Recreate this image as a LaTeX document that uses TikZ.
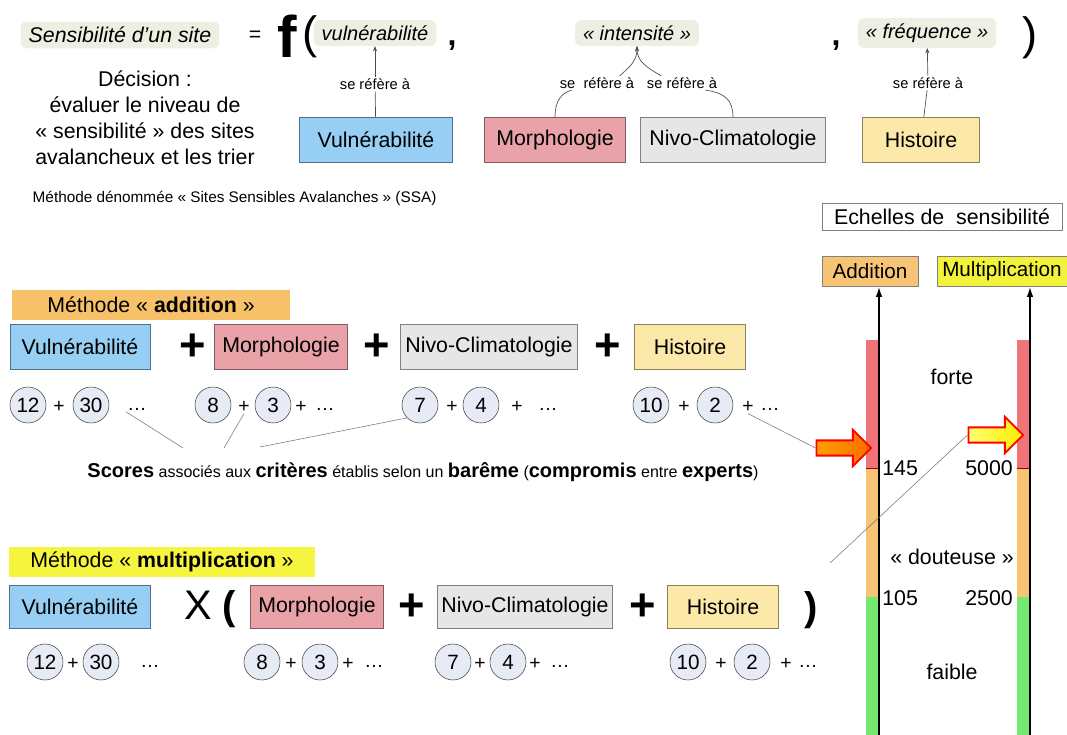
\documentclass[tikz,border=0pt]{standalone}
\usepackage{fontspec}
\setmainfont{Liberation Sans}
\usetikzlibrary{arrows.meta,shapes.arrows}

\definecolor{bleu}{HTML}{97CEF3}
\definecolor{rose}{HTML}{E9A3A8}
\definecolor{gris}{HTML}{E6E6E6}
\definecolor{jaune}{HTML}{FCE9AA}
\definecolor{orangeb}{HTML}{F7C169}
\definecolor{jauneb}{HTML}{F5F53F}
\definecolor{orangec}{HTML}{F6C474}
\definecolor{jaunev}{HTML}{F2F23A}
\definecolor{rougeb}{HTML}{EF7477}
\definecolor{vert}{HTML}{74E870}
\definecolor{cercle}{HTML}{E7EBF5}
\definecolor{surlign}{HTML}{EEEFE3}

\newcommand{\mot}[1]{{\fontsize{15}{18}\selectfont\bfseries #1}}

\begin{document}
\begin{tikzpicture}[x=0.75pt, y=-0.75pt,
    crit/.style={draw=#1!55!black, fill=#1, inner sep=0pt, font=\fontsize{16}{19}\selectfont},
    note/.style={circle, draw=black!75, fill=cercle, minimum size=27pt, inner sep=0pt, font=\fontsize{15.5}{18}\selectfont},
    op/.style={anchor=base, inner sep=1pt, font=\fontsize{14.5}{17}\selectfont},
    gros/.style={inner sep=0pt, font=\fontsize{34}{34}\bfseries\selectfont},
    ital/.style={fill=surlign, rounded corners=4pt, inner xsep=6pt, inner ysep=4pt, font=\fontsize{15}{18}\itshape\selectfont},
    ref/.style={inner sep=1pt, font=\fontsize{11}{13}\selectfont},
    lien/.style={draw=black!70, line width=0.5pt},
    fil/.style={draw=black!55, line width=0.4pt},
    fleche/.style={single arrow, draw=red, line width=1.4pt, minimum height=41pt, inner sep=5pt, single arrow head extend=8pt},
    echelle/.style={line width=1.8pt, -{Latex[length=8pt,width=5pt]}},
    lab/.style={inner sep=0pt, font=\fontsize{16}{19}\selectfont}]
  \useasboundingbox (0,0) rectangle (1067,735);

  % Formule
  \node[ital, font=\fontsize{16}{19}\itshape\selectfont] (sens) at (120,35) {Sensibilité d'un site};
  \node[lab] (egal) at (255,36) {=};
  \node[inner sep=0pt, font=\fontsize{44}{44}\bfseries\selectfont] (f) at (287,36) {f};
  \node[inner sep=0pt, font=\fontsize{34}{34}\selectfont] (pa) at (310,37) {(};
  \node[ital] (vuln) at (375,33) {vulnérabilité};
  \node[anchor=base, font=\fontsize{24}{24}\bfseries\selectfont] (v1) at (452,46) {,};
  \node[ital] (inten) at (637,33) {«~intensité~»};
  \node[anchor=base, font=\fontsize{24}{24}\bfseries\selectfont] (v2) at (836,46) {,};
  \node[ital] (freq) at (927,33) {«~fréquence~»};
  \node[inner sep=0pt, font=\fontsize{34}{34}\selectfont] (pb) at (1030,38) {)};

  \node[align=center, font=\fontsize{16}{19.5}\selectfont] (decision) at (145,118)
    {Décision :\\évaluer le niveau de\\«~sensibilité~» des sites\\avalancheux et les trier};
  \node[anchor=west, font=\fontsize{11.5}{14}\selectfont] (ssa) at (28,198)
    {Méthode dénommée «~Sites Sensibles Avalanches~» (SSA)};

  % Criteres
  \node[crit=bleu, minimum width=115pt, minimum height=34pt] (vt) at (376,140) {Vulnérabilité};
  \node[crit=rose, minimum width=106pt, minimum height=34pt] (mt) at (555,140) {Morphologie};
  \node[crit=gris, minimum width=139pt, minimum height=34pt] (nt) at (733,140) {Nivo-Climatologie};
  \node[crit=jaune, minimum width=88pt, minimum height=34pt] (ht) at (921,140) {Histoire};

  \node[ref] (r1) at (375,84) {se réfère à};
  \node[ref] (r2) at (597,83) {se\ \ réfère à};
  \node[ref] (r3) at (682,83) {se réfère à};
  \node[ref] (r4) at (928,83) {se réfère à};

  \draw[lien] (vt) -- (r1);
  \draw[lien, -{Stealth[length=4pt,width=3pt]}] (r1) -- (vuln);
  \draw[lien] (mt.north) .. controls (555,100) and (562,93) .. ([xshift=10pt]r2.south west);
  \draw[lien, -{Stealth[length=4pt,width=3pt]}] ([xshift=-12pt]r2.north east) .. controls (628,68) and (637,62) .. (inten.south);
  \draw[lien] (nt.north) .. controls (733,100) and (725,93) .. ([xshift=-10pt]r3.south east);
  \draw[lien, -{Stealth[length=4pt,width=3pt]}] ([xshift=12pt]r3.north west) .. controls (648,68) and (637,62) .. (inten.south);
  \draw[lien] (ht) -- (r4);
  \draw[lien, -{Stealth[length=4pt,width=3pt]}] (r4) -- (freq);

  % Methode addition
  \node[fill=orangeb, minimum width=208pt, minimum height=22pt, inner sep=0pt, font=\fontsize{16}{19}\selectfont] (madd) at (151,305) {Méthode «~\textbf{addition}~»};
  \node[crit=bleu, minimum width=105pt, minimum height=34pt] (va) at (80,347) {Vulnérabilité};
  \node[gros] (p1) at (193,347) {+};
  \node[crit=rose, minimum width=100pt, minimum height=34pt] (ma) at (281,347) {Morphologie};
  \node[gros] (p2) at (377,347) {+};
  \node[crit=gris, minimum width=133pt, minimum height=34pt] (na) at (489,347) {Nivo-Climatologie};
  \node[gros] (p3) at (608,347) {+};
  \node[crit=jaune, minimum width=83pt, minimum height=34pt] (ha) at (690,347) {Histoire};

  \foreach \v/\x [count=\i] in {12/28, 30/91, 8/213, 3/273, 7/420, 4/481, 10/651, 2/715}
    \node[note] (a\i) at (\x,405) {\v};
  \foreach \x [count=\i] in {59, 244, 301, 452, 517, 684, 748}
    \node[op] (ap\i) at (\x,412) {+};
  \foreach \x [count=\i] in {137, 325, 548, 770}
    \node[op] (ad\i) at (\x,410) {…};

  \node[font=\fontsize{12}{14}\selectfont] (scores) at (423,472)
    {\mot{Scores} associés aux \mot{critères} établis selon un \mot{barême} (\mot{compromis} entre \mot{experts})};

  % Methode multiplication
  \node[fill=jauneb, minimum width=229pt, minimum height=22.5pt, inner sep=0pt, font=\fontsize{16}{19}\selectfont] (mmul) at (162,562) {Méthode «~\textbf{multiplication}~»};
  \node[crit=bleu, minimum width=106pt, minimum height=32pt] (vm) at (80,607) {Vulnérabilité};
  \node[inner sep=0pt, font=\fontsize{31}{31}\selectfont] (fois) at (198,605) {X};
  \node[inner sep=0pt, font=\fontsize{30}{30}\bfseries\selectfont] (po) at (229,609) {(};
  \node[crit=rose, minimum width=100pt, minimum height=32pt] (mm) at (317,607) {Morphologie};
  \node[gros] (p4) at (412,607) {+};
  \node[crit=gris, minimum width=131pt, minimum height=32pt] (nm) at (525,607) {Nivo-Climatologie};
  \node[gros] (p5) at (643,607) {+};
  \node[crit=jaune, minimum width=83pt, minimum height=32pt] (hm) at (723,607) {Histoire};
  \node[inner sep=0pt, font=\fontsize{30}{30}\bfseries\selectfont] (pf) at (811,610) {)};

  \foreach \v/\x [count=\i] in {12/45, 30/101, 8/262, 3/320, 7/453, 4/508, 10/688, 2/752}
    \node[note] (m\i) at (\x,662) {\v};
  \foreach \x [count=\i] in {73, 291, 348, 480, 535, 721, 786}
    \node[op] (mp\i) at (\x,669) {+};
  \foreach \x [count=\i] in {150, 374, 560, 808}
    \node[op] (md\i) at (\x,667) {…};

  % Echelles
  \node[draw=black!50, fill=white, minimum width=180pt, minimum height=20pt, inner sep=0pt, font=\fontsize{16}{19}\selectfont] (ech) at (942,217) {Echelles de\ \ sensibilité};
  \node[draw=black!50, fill=orangec, minimum width=72pt, minimum height=22.5pt, inner sep=0pt, font=\fontsize{15.5}{18}\selectfont] (addb) at (870,271) {Addition};
  \node[draw=black!50, fill=jaunev, minimum width=97.5pt, minimum height=22.5pt, inner sep=0pt, font=\fontsize{15.5}{18}\selectfont] (mulb) at (1002,271) {Multiplication};

  \fill[rougeb] (866,340) rectangle (878,468);
  \fill[orangec] (866,468) rectangle (878,597);
  \fill[vert] (866,597) rectangle (878,735);
  \fill[rougeb] (1017,340) rectangle (1029,468);
  \fill[orangec] (1017,468) rectangle (1029,597);
  \fill[vert] (1017,597) rectangle (1029,735);
  \draw[red!60!black, line width=0.6pt] (866,468) -- (878,468) (1017,468) -- (1029,468);

  \coordinate (abas) at (879,735);
  \coordinate (mbas) at (1030,735);
  \draw[echelle] (abas) -- (abas |- addb.south);
  \draw[echelle] (mbas) -- (mbas |- mulb.south);

  \node[lab] (forte) at (952,377) {forte};
  \node[lab, anchor=west] (s145) at (882,468) {145};
  \node[lab, anchor=east] (s5000) at (1013,468) {5000};
  \node[lab] (dout) at (952,557) {«~douteuse~»};
  \node[lab, anchor=west] (s105) at (882,598) {105};
  \node[lab, anchor=east] (s2500) at (1013,598) {2500};
  \node[lab] (faible) at (952,672) {faible};

  \node[fleche, left color=orange!75!yellow, right color=orange!85!red] (fadd) at (840,448) {};
  \node[fleche, left color=yellow!55, right color=yellow!85!orange] (fmul) at (992,435) {};

  % Liens vers les scores
  \coordinate (j1) at (183,448);
  \coordinate (j2) at (224,448);
  \coordinate (j3) at (260,447);
  \coordinate (j4) at (830,563);
  \draw[fil] (ad1.south west) -- (j1);
  \draw[fil] (ap2.south) -- (j2);
  \draw[fil] (a5.south west) -- (j3);
  \draw[fil] (ap7.south) -- (fadd.west);
  \draw[fil] (j4) -- (fmul.west);
\end{tikzpicture}
\end{document}
